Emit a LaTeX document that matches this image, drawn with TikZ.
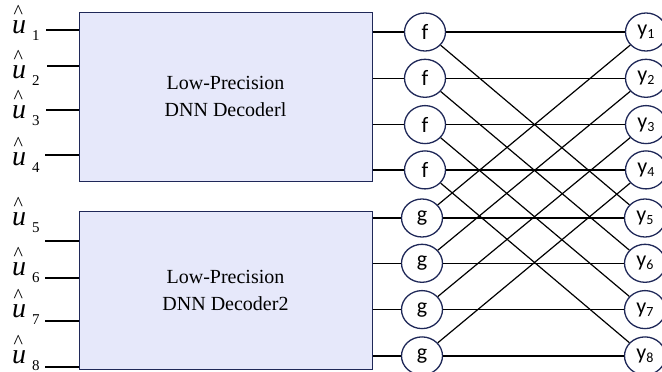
\documentclass[tikz,border=0pt]{standalone}
\usepackage{fontspec}
\setmainfont{Liberation Serif}
\newfontfamily\calibfont{Carlito}
\usetikzlibrary{shapes.geometric, positioning}

\definecolor{boxfill}{HTML}{E6E8FA}
\definecolor{navyline}{HTML}{1F2858}

% estimated bit with its hat
\newcommand{\uhat}[1]{\rlap{\smash{\raisebox{15pt}{\hspace{1.5pt}\fontsize{20}{20}\selectfont\textasciicircum}}}%
  \textit{u}\hspace{6pt}\raisebox{-7pt}{\fontsize{15}{15}\selectfont #1}}
% output bit
\newcommand{\ysub}[1]{y\raisebox{-3pt}{\fontsize{14}{14}\selectfont #1}}

\begin{document}
\begin{tikzpicture}[
        x=1pt, y=-1pt,
        % Decoder blocks
        decbox/.style={
                rectangle,
                draw=navyline,
                fill=boxfill,
                line width=1pt,
                minimum width=293pt,
                align=center,
                font=\fontsize{20}{27}\selectfont
            },
        % f / g nodes and outputs
        opnode/.style={
                ellipse,
                draw=navyline,
                fill=white,
                line width=1.3pt,
                minimum width=41pt,
                minimum height=38pt,
                inner sep=0pt,
                font=\calibfont\fontsize{22}{22}\selectfont
            },
        % Input labels
        ulabel/.style={
                anchor=base west,
                inner sep=0pt,
                font=\fontsize{28}{28}\selectfont
            },
        % Lines
        wire/.style={
                line width=1.2pt,
                color=black
            }
    ]
    \useasboundingbox (0,0) rectangle (662,372);
    \clip (0,0) rectangle (662,372);

    % Decoders
    \node[decbox, minimum height=169pt] (box1) at (225.5,96.5) {Low-Precision\\DNN Decoderl};
    \node[decbox, minimum height=158pt] (box2) at (225.5,290) {Low-Precision\\DNN Decoder2};

    % Input labels
    \node[ulabel] (u1) at (12,34) {\uhat{1}};
    \node[ulabel] (u2) at (12,78) {\uhat{2}};
    \node[ulabel] (u3) at (12,118) {\uhat{3}};
    \node[ulabel] (u4) at (12,165) {\uhat{4}};
    \node[ulabel] (u5) at (12,225) {\uhat{5}};
    \node[ulabel] (u6) at (12,275) {\uhat{6}};
    \node[ulabel] (u7) at (12,317) {\uhat{7}};
    \node[ulabel] (u8) at (12,363) {\uhat{8}};

    % Input lines
    \coordinate (i1) at (46,30);
    \coordinate (i2) at (47,66);
    \coordinate (i3) at (46,110);
    \coordinate (i4) at (45,155);
    \coordinate (i5) at (45,241);
    \coordinate (i6) at (45,278);
    \coordinate (i7) at (45,321);
    \coordinate (i8) at (45,367);
    \draw[wire] (i1) -- (i1 -| box1.west) (i2) -- (i2 -| box1.west)
                (i3) -- (i3 -| box1.west) (i4) -- (i4 -| box1.west);
    \draw[wire] (i5) -- (i5 -| box2.west) (i6) -- (i6 -| box2.west)
                (i7) -- (i7 -| box2.west) (i8) -- (i8 -| box2.west);

    % f nodes
    \node[opnode] (f1) at (425,32) {f};
    \node[opnode, below=7pt of f1] (f2) {f};
    \node[opnode, below=7pt of f2] (f3) {f};
    \node[opnode, below=6pt of f3] (f4) {f};

    % g nodes
    \node[opnode] (g1) at (422,218) {g};
    \node[opnode, below=6pt of g1] (g2) {g};
    \node[opnode, below=7pt of g2] (g3) {g};
    \node[opnode, below=7pt of g3] (g4) {g};

    % Outputs
    \node[opnode] (y1) at (646,32) {\ysub{1}};
    \node[opnode, below=7pt of y1] (y2) {\ysub{2}};
    \node[opnode, below=7pt of y2] (y3) {\ysub{3}};
    \node[opnode, below=6pt of y3] (y4) {\ysub{4}};
    \node[opnode] (y5) at (645,218) {\ysub{5}};
    \node[opnode, below=6pt of y5] (y6) {\ysub{6}};
    \node[opnode, below=7pt of y6] (y7) {\ysub{7}};
    \node[opnode, below=7pt of y7] (y8) {\ysub{8}};

    % Decoder to f / g
    \draw[wire] (box1.east |- f1) -- (f1) (box1.east |- f2) -- (f2)
                (box1.east |- f3) -- (f3) (box1.east |- f4) -- (f4);
    \draw[wire] (box2.east |- g1) -- (g1) (box2.east |- g2) -- (g2)
                (box2.east |- g3) -- (g3) (box2.east |- g4) -- (g4);

    % Butterfly
    \draw[wire] (f1) -- (y1) (f2) -- (y2) (f3) -- (y3) (f4) -- (y4);
    \draw[wire] (g1) -- (y5) (g2) -- (y6) (g3) -- (y7) (g4) -- (y8);
    \draw[wire] (f1) -- (y5) (f2) -- (y6) (f3) -- (y7) (f4) -- (y8);
    \draw[wire] (g1) -- (y1) (g2) -- (y2) (g3) -- (y3) (g4) -- (y4);

\end{tikzpicture}
\end{document}
